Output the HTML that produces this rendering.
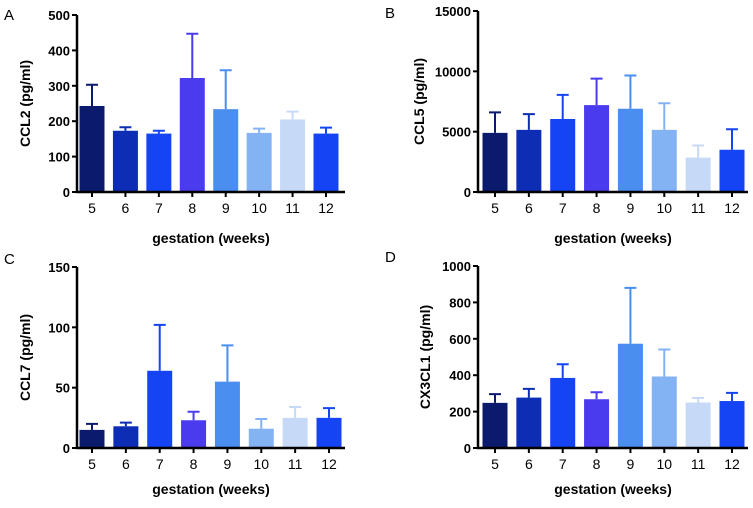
<!DOCTYPE html>
<html><head><meta charset="utf-8"><style>
body{margin:0;background:#fff;font-family:"Liberation Sans",Arial,sans-serif}
svg text{font-family:"Liberation Sans",Arial,sans-serif}
</style></head><body>
<svg id="c" width="753" height="503" xmlns="http://www.w3.org/2000/svg"></svg>
<script>
const categories=["5","6","7","8","9","10","11","12"];
const colors=["#0b1a6c","#0e2db5","#1444f4","#4a3bef","#4a8ff0","#84b3f4","#c6daf8","#1444f4"];
const ccl2Values=[243,173,165,322,234,167,205,165];
const ccl2Errors=[60,10,8,125,110,12,22,17];
const ccl5Values=[4900,5150,6050,7200,6900,5150,2850,3500];
const ccl5Errors=[1700,1300,2000,2200,2750,2200,1000,1700];
const ccl7Values=[15,18,64,23,55,16,25,25];
const ccl7Errors=[5,3,38,7,30,8,9,8];
const cx3cl1Values=[248,277,385,268,573,393,250,258];
const cx3cl1Errors=[48,48,75,38,307,148,25,45];
const ccl2Ticks=[0,100,200,300,400,500];
const ccl5Ticks=[0,5000,10000,15000];
const ccl7Ticks=[0,50,100,150];
const cx3cl1Ticks=[0,200,400,600,800,1000];
const svg=document.getElementById('c');
const NS='http://www.w3.org/2000/svg';
function mk(tag,attrs,parent,text){const e=document.createElementNS(NS,tag);for(const k in attrs)e.setAttribute(k,attrs[k]);if(text!==undefined)e.textContent=text;(parent||svg).appendChild(e);return e;}
function panel(id,letter,lx,ly,ax,top,bot,xEnd,c0,c11,vals,errs,ticks,ytitle,ytx,xty){
  const g=mk('g',{},svg);
  
  
  const max=ticks[ticks.length-1];
  const y=v=>bot-(v/max)*(bot-top);
  const step=(c11-c0)/7;
  const x=i=>c0+i*step;
  const bw=25;
  const L=mk('text',{x:lx,y:ly,'font-size':15},g,letter);
  
  
  vals.forEach((v,i)=>{
    const b=mk('rect',{x:x(i)-bw/2,y:y(v),width:bw,height:bot-y(v),fill:colors[i]},g);
    
    
    const e=mk('path',{d:`M${x(i)} ${y(v)}V${y(v+errs[i])}M${x(i)-6} ${y(v+errs[i])}H${x(i)+6}`,stroke:colors[i],'stroke-width':2,fill:'none'},g);
    
    
  });
  const ax1=mk('path',{d:`M${ax} ${top}V${bot}H${xEnd}`,stroke:'#000','stroke-width':2.5,fill:'none'},g);
  
  
  ticks.forEach(t=>{
    mk('path',{d:`M${ax-5} ${y(t)}H${ax}`,stroke:'#000','stroke-width':2},g);
    const tl=mk('text',{x:ax-7,y:y(t)+5,'font-size':13,'font-weight':'bold','text-anchor':'end'},g,t);
    
    
  });
  categories.forEach((c,i)=>{
    mk('path',{d:`M${x(i)} ${bot}V${bot+5}`,stroke:'#000','stroke-width':2},g);
    const tl=mk('text',{x:x(i),y:bot+21,'font-size':14,'text-anchor':'middle'},g,c);
    
    
  });
  const yt=mk('text',{x:0,y:0,'font-size':14,'font-weight':'bold','text-anchor':'middle',transform:`translate(${ytx},${(top+bot)/2}) rotate(-90)`},g,ytitle);
  
  
  const xt=mk('text',{x:(ax+xEnd)/2,y:xty,'font-size':14,'font-weight':'bold','text-anchor':'middle'},g,'gestation (weeks)');
  
  
}
panel('a','A',4,20,77,15,192,345,92,326,ccl2Values,ccl2Errors,ccl2Ticks,'CCL2 (pg/ml)',30,243);
panel('b','B',385,18,478,11,192,748,495,732,ccl5Values,ccl5Errors,ccl5Ticks,'CCL5 (pg/ml)',424,243);
panel('c','C',4,264,77,267,448,345,92,329,ccl7Values,ccl7Errors,ccl7Ticks,'CCL7 (pg/ml)',30,494);
panel('d','D',385,262,478,266,448,748,495,732,cx3cl1Values,cx3cl1Errors,cx3cl1Ticks,'CX3CL1 (pg/ml)',430,494);
</script>
</body></html>
